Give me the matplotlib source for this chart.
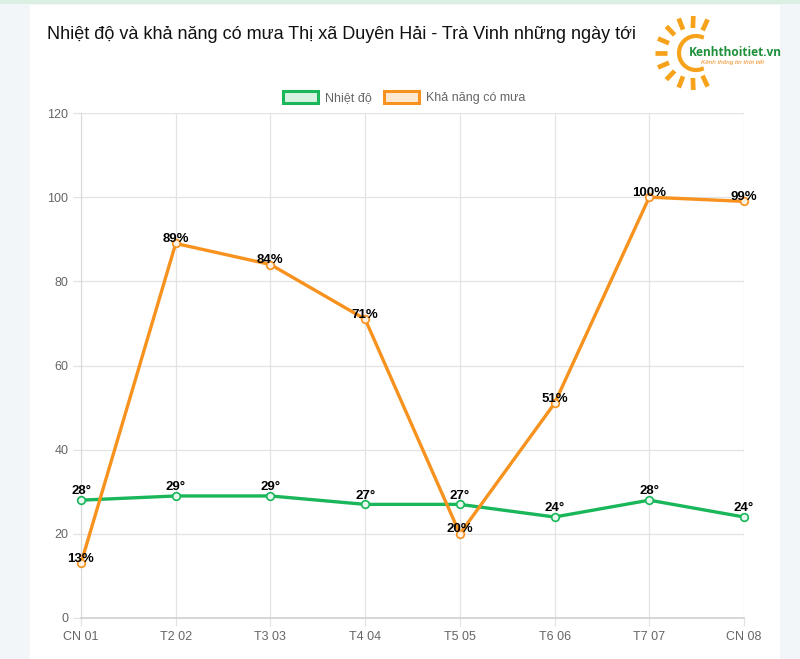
import matplotlib
matplotlib.use("Agg")
import matplotlib.pyplot as plt
import numpy as np
from matplotlib.patches import Rectangle
from matplotlib.lines import Line2D

categories = ["CN 01", "T2 02", "T3 03", "T4 04", "T5 05", "T6 06", "T7 07", "CN 08"]
temperature = [28, 29, 29, 27, 27, 24, 28, 24]
rain_chance = [13, 89, 84, 71, 20, 51, 100, 99]
y_ticks = [0, 20, 40, 60, 80, 100, 120]
title = "Nhiệt độ và khả năng có mưa Thị xã Duyên Hải - Trà Vinh những ngày tới"
legend_labels = ["Nhiệt độ", "Khả năng có mưa"]

GREEN = "#19b65a"
ORANGE = "#f7921e"
FONT = ["Liberation Sans", "DejaVu Sans"]
plt.rcParams["font.family"] = FONT

W, H = 800, 659
fig = plt.figure(figsize=(W / 100, H / 100), dpi=100)
fig.patch.set_facecolor("#f2f6f8")

def fx(x):
    return x / W

def fy(y):
    return 1 - y / H

# card and top strip
fig.patches.append(Rectangle((fx(30), 0), fx(780) - fx(30), fy(5), transform=fig.transFigure,
                             facecolor="white", edgecolor="none", zorder=-10))
fig.patches.append(Rectangle((0, fy(4)), 1, 1 - fy(4), transform=fig.transFigure,
                             facecolor="#dcefe3", edgecolor="none", zorder=-10))

ax = fig.add_axes([fx(81), fy(618), fx(744) - fx(81), fy(113) - fy(618)])
ax.set_zorder(5)
ax.set_facecolor("white")
x = np.arange(len(categories))

ax.plot(x, temperature, color=GREEN, lw=2.4, marker="o", ms=5.5, mfc="#e8f7ee",
        mec=GREEN, mew=1.2, zorder=3, clip_on=False)
ax.plot(x, rain_chance, color=ORANGE, lw=2.4, marker="o", ms=5.5, mfc="#fdf0e0",
        mec=ORANGE, mew=1.2, zorder=3, clip_on=False)

for xi, v in zip(x, temperature):
    ax.annotate(f"{v}°", (xi, v), xytext=(0, 2), textcoords="offset points",
                ha="center", va="bottom", fontsize=9.5, fontweight="bold", color="black", zorder=5)
for xi, v in zip(x, rain_chance):
    ax.annotate(f"{v}%", (xi, v), xytext=(0, -1), textcoords="offset points",
                ha="center", va="bottom", fontsize=9.5, fontweight="bold", color="black", zorder=5)

ax.set_xlim(0, len(categories) - 1)
ax.set_ylim(0, 120)
ax.set_yticks(y_ticks)
ax.set_xticks(x)
ax.set_xticklabels(categories)
ax.grid(True, color="#e3e3e3", lw=0.9)
ax.set_axisbelow(True)
for s in ["top", "right"]:
    ax.spines[s].set_visible(False)
ax.spines["left"].set_color("#d9d9d9")
ax.spines["bottom"].set_color("#d0d0d0")
ax.spines["bottom"].set_linewidth(1.2)
ax.tick_params(axis="both", colors="#666666", labelsize=9, length=6, width=0.9)
ax.tick_params(axis="both", color="#e3e3e3")
ax.tick_params(axis="x", pad=3)
ax.tick_params(axis="y", pad=3)

# title
fig.text(fx(47), fy(39), title, fontsize=13.0, color="#111111", va="baseline", ha="left")

# legend
for (x0, col, fc, lab) in [(283, GREEN, "#d8f2e2", legend_labels[0]), (384, ORANGE, "#fde9d2", legend_labels[1])]:
    fig.patches.append(Rectangle((fx(x0), fy(103)), fx(35), fy(91) - fy(103), transform=fig.transFigure,
                                 facecolor=fc, edgecolor=col, lw=2.2, zorder=2))
    fig.text(fx(x0 + 42), fy(101), lab, fontsize=9, color="#666666", va="baseline", ha="left")

# logo
cx, cy = 692, 53
for ang in np.linspace(65, 295, 11):
    a = np.deg2rad(ang)
    r1, r2 = 25, 37
    fig.lines.append(Line2D([fx(cx + r1 * np.cos(a)), fx(cx + r2 * np.cos(a))],
                            [fy(cy - r1 * np.sin(a)), fy(cy - r2 * np.sin(a))],
                            transform=fig.transFigure, color="#f7a21b", lw=3.4, solid_capstyle="butt"))
arc_t = np.deg2rad(np.linspace(70, 290, 60))
fig.lines.append(Line2D([fx(cx + 4 + 17 * np.cos(t)) for t in arc_t],
                        [fy(cy - 17 * np.sin(t)) for t in arc_t],
                        transform=fig.transFigure, color="#f7a21b", lw=3))
fig.text(fx(689), fy(52), "Kenhthoitiet.vn", fontsize=8.6, fontweight="bold", color="#1f8f3a",
         va="center", ha="left", family=["Open Sans", "DejaVu Sans"])
fig.text(fx(701), fy(62), "Kênh thông tin thời tiết", fontsize=4.6, color="#f08a1c",
         va="center", ha="left", style="italic")

fig.savefig("out.png", dpi=100, facecolor=fig.get_facecolor())
